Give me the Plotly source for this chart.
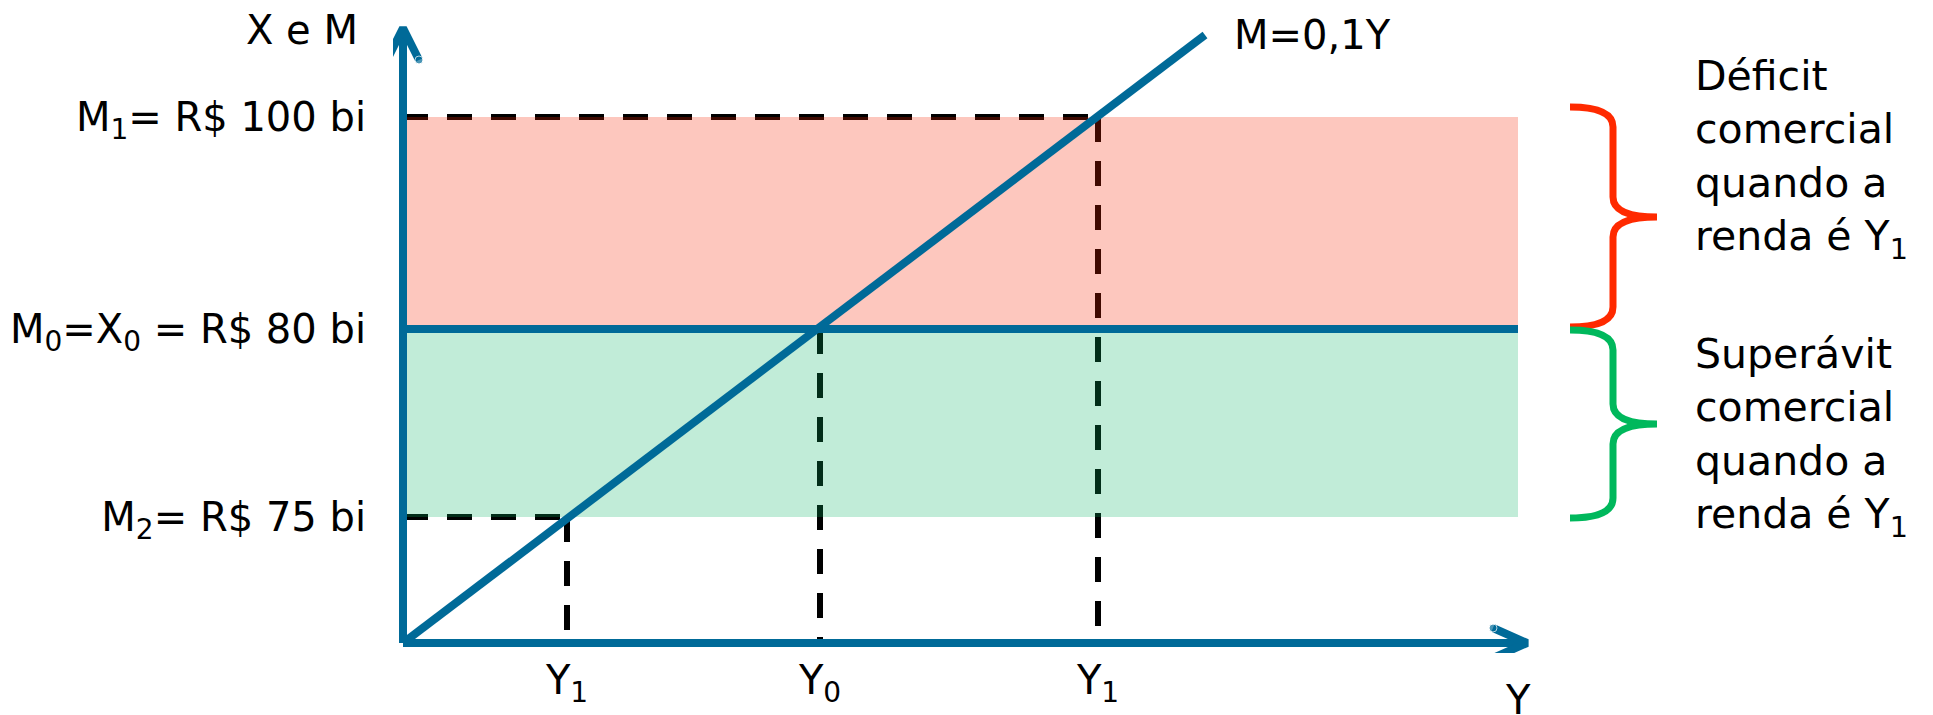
import plotly.graph_objects as go

# ---- data (schematic drawing units; 1 unit ~ 100 px) ----
level_values = [1.26, 3.14, 5.26]          # M2, M0 = X0, M1
level_labels = ["M<sub>2</sub>= R$ 75 bi",
                "M<sub>0</sub>=X<sub>0</sub> = R$ 80 bi",
                "M<sub>1</sub>= R$ 100 bi"]
income_values = [1.64, 4.17, 6.95]         # Y1 (left), Y0, Y1 (right)
income_labels = ["Y<sub>1</sub>", "Y<sub>0</sub>", "Y<sub>1</sub>"]
import_line_x = [0, 8.02]                  # M = 0,1Y
import_line_y = [0, 6.08]
band_right = 11.15
x_axis_end = 11.24
y_axis_end = 6.15

BLUE = "#006A98"
FONT = "DejaVu Sans"
X_RANGE = [-0.10, 15.30]
Y_RANGE = [-0.10, 6.35]


def px(x):
    return (x - X_RANGE[0]) / (X_RANGE[1] - X_RANGE[0])


def py(y):
    return (y - Y_RANGE[0]) / (Y_RANGE[1] - Y_RANGE[0])


fig = go.Figure()

# dashed guide lines (drawn first, beneath the translucent bands)
dash_style = dict(color="black", width=6, dash="25px,19px")
for i, (xv, yv) in enumerate(zip(income_values, level_values)):
    if i != 1:
        fig.add_trace(go.Scatter(x=[0, xv], y=[yv, yv], mode="lines",
                                 line=dash_style, hoverinfo="skip"))
    fig.add_trace(go.Scatter(x=[xv, xv], y=[yv, 0], mode="lines",
                             line=dash_style, hoverinfo="skip"))

# bands: deficit (M0..M1) and surplus (M2..M0)
fig.add_trace(go.Scatter(
    x=[0, band_right, band_right, 0, 0],
    y=[level_values[1], level_values[1], level_values[2], level_values[2], level_values[1]],
    mode="none", fill="toself", fillcolor="rgba(247,35,0,0.255)", hoverinfo="skip"))
fig.add_trace(go.Scatter(
    x=[0, band_right, band_right, 0, 0],
    y=[level_values[0], level_values[0], level_values[1], level_values[1], level_values[0]],
    mode="none", fill="toself", fillcolor="rgba(7,179,99,0.25)", hoverinfo="skip"))

# X0 line and import function
fig.add_trace(go.Scatter(x=[0, band_right], y=[level_values[1]] * 2, mode="lines",
                         line=dict(color=BLUE, width=8), hoverinfo="skip"))
fig.add_trace(go.Scatter(x=import_line_x, y=import_line_y, mode="lines",
                         line=dict(color=BLUE, width=8), hoverinfo="skip"))

# axes with open arrowheads
fig.add_trace(go.Scatter(x=[0, 0], y=[0, y_axis_end], mode="lines",
                         line=dict(color=BLUE, width=8), hoverinfo="skip"))
fig.add_trace(go.Scatter(x=[0, x_axis_end], y=[0, 0], mode="lines",
                         line=dict(color=BLUE, width=8), hoverinfo="skip"))
fig.add_trace(go.Scatter(x=[-0.16, 0, 0.16], y=[y_axis_end - 0.32, y_axis_end, y_axis_end - 0.32],
                         mode="lines+markers", line=dict(color=BLUE, width=8),
                         marker=dict(color=BLUE, size=[8, 0, 8]), hoverinfo="skip"))
fig.add_trace(go.Scatter(x=[x_axis_end - 0.34, x_axis_end, x_axis_end - 0.34], y=[0.15, 0, -0.15],
                         mode="lines+markers", line=dict(color=BLUE, width=8),
                         marker=dict(color=BLUE, size=[8, 0, 8]), hoverinfo="skip"))


def brace_path(ytop, ybot, x0=11.67, xv=12.10, xt=12.54, r=0.2):
    ym = (ytop + ybot) / 2
    return (f"M {x0},{ytop} Q {xv},{ytop} {xv},{ytop - r} "
            f"L {xv},{ym + r} Q {xv},{ym} {xt},{ym} "
            f"Q {xv},{ym} {xv},{ym - r} "
            f"L {xv},{ybot + r} Q {xv},{ybot} {x0},{ybot}")


fig.add_shape(type="path", xref="x", yref="y",
              path=brace_path(level_values[2] + 0.10, level_values[1] + 0.02),
              line=dict(color="#FF2A00", width=7))
fig.add_shape(type="path", xref="x", yref="y",
              path=brace_path(level_values[1] - 0.01, level_values[0] - 0.01),
              line=dict(color="#00B85C", width=7))

ann_font = dict(family=FONT, size=40, color="black")
fig.add_annotation(x=px(-0.43), y=py(6.13), xref="paper", yref="paper", text="X e M",
                   showarrow=False, xanchor="right", yanchor="middle", font=ann_font)
fig.add_annotation(x=px(band_right), y=py(-0.57), xref="paper", yref="paper", text="Y",
                   showarrow=False, xanchor="center", yanchor="middle", font=ann_font)
fig.add_annotation(x=8.29, y=6.08, xref="x", yref="y", text="M=0,1Y", showarrow=False,
                   xanchor="left", yanchor="middle", font=ann_font)
fig.add_annotation(x=12.90, y=4.84, xref="x", yref="y",
                   text="Déficit<br>comercial<br>quando a<br>renda é Y<sub>1</sub>",
                   showarrow=False, xanchor="left", yanchor="middle", align="left",
                   font=dict(family=FONT, size=41, color="black"))
fig.add_annotation(x=12.90, y=2.06, xref="x", yref="y",
                   text="Superávit<br>comercial<br>quando a<br>renda é Y<sub>1</sub>",
                   showarrow=False, xanchor="left", yanchor="middle", align="left",
                   font=dict(family=FONT, size=41, color="black"))

fig.update_layout(
    width=1925, height=707,
    margin=dict(l=385, r=0, t=0, b=62),
    plot_bgcolor="white", paper_bgcolor="white",
    showlegend=False,
    font=dict(family=FONT, color="black"),
    xaxis=dict(range=X_RANGE, showgrid=False, zeroline=False, showline=False,
               tickmode="array", tickvals=income_values, ticktext=income_labels,
               tickfont=dict(family=FONT, size=40, color="black"), ticks="",
               automargin=False, fixedrange=True),
    yaxis=dict(range=Y_RANGE, showgrid=False, zeroline=False, showline=False,
               tickmode="array", tickvals=level_values, ticktext=level_labels,
               tickfont=dict(family=FONT, size=40, color="black"), ticks="",
               ticklabelstandoff=26, automargin=False, fixedrange=True),
)

fig.write_html("out.html")
